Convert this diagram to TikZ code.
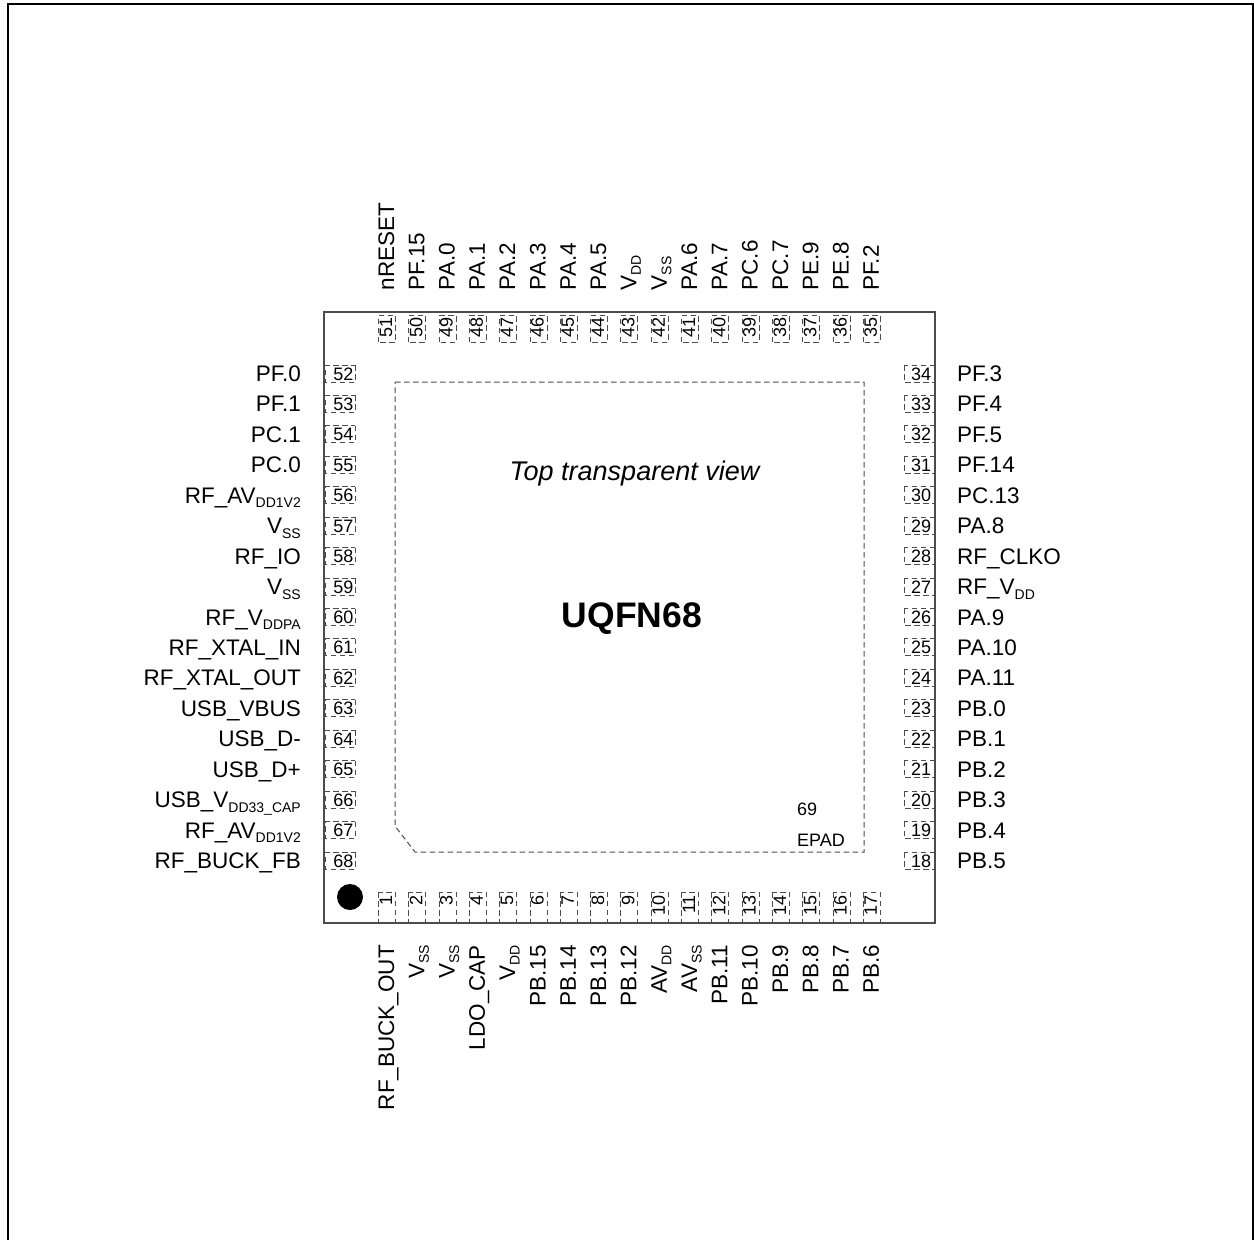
\documentclass[tikz,border=0pt]{standalone}
\usepackage{fontspec}
\setmainfont{Liberation Sans}
\newcommand\subs[1]{\raisebox{-0.2em}{\fontsize{14}{16}\selectfont #1}}
\tikzset{
 x=1pt,y=-1pt,
 frameline/.style={line width=2.4pt,black},
 chip/.style={draw=black!70,line width=1.2pt},
 dashline/.style={draw=black!70,line width=1pt,dash pattern=on 5.5pt off 3.5pt},
 lab/.style={inner sep=0pt,font=\fontsize{22.5}{24}\selectfont},
 num/.style={inner sep=0pt,font=\fontsize{18}{20}\selectfont},
 capt/.style={inner sep=0pt,font=\fontsize{27}{30}\selectfont\itshape},
 title/.style={inner sep=0pt,font=\fontsize{35.5}{40}\selectfont\bfseries},
 epad/.style={inner sep=0pt,font=\fontsize{18}{20}\selectfont,anchor=base west},
}
\begin{document}
\begin{tikzpicture}
\useasboundingbox (0,0) rectangle (1254,1240);
\draw[frameline] (8,1240) -- (8,4) -- (1253,4) -- (1253,1240);
\draw[chip] (324,312) rectangle (935,923);
\draw[dashline] (395,382) -- (864,382) -- (864,852) -- (415,852) -- (395,826) -- cycle;
\fill[black] (350,897) circle (13);
\node[capt] (view) at (634.5,474) {Top transparent view};
\node[title] (pkg) at (632,619) {UQFN68};
\node[epad] (n69) at (797,815) {69};
\node[epad] (epadl) at (797,846) {EPAD};
% left
\foreach \n/\t [count=\i from 0] in {52/PF.0,53/PF.1,54/PC.1,55/PC.0,56/RF\_AV\subs{DD1V2},57/V\subs{SS},58/RF\_IO,59/V\subs{SS},60/RF\_V\subs{DDPA},61/RF\_XTAL\_IN,62/RF\_XTAL\_OUT,63/USB\_VBUS,64/USB\_D-,65/USB\_D+,66/USB\_V\subs{DD33\_CAP},67/RF\_AV\subs{DD1V2},68/RF\_BUCK\_FB}{
 \pgfmathsetmacro\yy{373.5+30.44*\i}
 \draw[dashline] (355,\yy-8.5) rectangle (325,\yy+8.5);
 \node[num,anchor=base east] (n\n) at (353.5,\yy+6.5) {\n};
 \node[lab,anchor=base east] (l\n) at (301,\yy+8) {\t};
}
% right
\foreach \n/\t [count=\i from 0] in {34/PF.3,33/PF.4,32/PF.5,31/PF.14,30/PC.13,29/PA.8,28/RF\_CLKO,27/RF\_V\subs{DD},26/PA.9,25/PA.10,24/PA.11,23/PB.0,22/PB.1,21/PB.2,20/PB.3,19/PB.4,18/PB.5}{
 \pgfmathsetmacro\yy{373.5+30.44*\i}
 \draw[dashline] (904,\yy-8.5) rectangle (934,\yy+8.5);
 \node[num,anchor=base west] (n\n) at (911,\yy+6.5) {\n};
 \node[lab,anchor=base west] (l\n) at (957,\yy+8) {\t};
}
% top
\foreach \n/\t [count=\i from 0] in {51/nRESET,50/PF.15,49/PA.0,48/PA.1,47/PA.2,46/PA.3,45/PA.4,44/PA.5,43/V\subs{DD},42/V\subs{SS},41/PA.6,40/PA.7,39/PC.6,38/PC.7,37/PE.9,36/PE.8,35/PF.2}{
 \pgfmathsetmacro\xx{387+30.31*\i}
 \draw[dashline] (\xx-8.5,342) rectangle (\xx+8.5,315);
 \node[num,rotate=90,anchor=base] (n\n) at (\xx+5,327) {\n};
 \node[lab,rotate=90,anchor=base west] (l\n) at (\xx+7,290.5) {\t};
}
% bottom
\foreach \n/\t [count=\i from 0] in {1/RF\_BUCK\_OUT,2/V\subs{SS},3/V\subs{SS},4/LDO\_CAP,5/V\subs{DD},6/PB.15,7/PB.14,8/PB.13,9/PB.12,10/AV\subs{DD},11/AV\subs{SS},12/PB.11,13/PB.10,14/PB.9,15/PB.8,16/PB.7,17/PB.6}{
 \pgfmathsetmacro\xx{387+30.31*\i}
 \draw[dashline] (\xx-8.5,892) rectangle (\xx+8.5,922);
 \node[num,rotate=90,anchor=base east] (n\n) at (\xx+5,895) {\n};
 \node[lab,rotate=90,anchor=base east] (l\n) at (\xx+7,945) {\t};
}
\end{tikzpicture}
\end{document}
